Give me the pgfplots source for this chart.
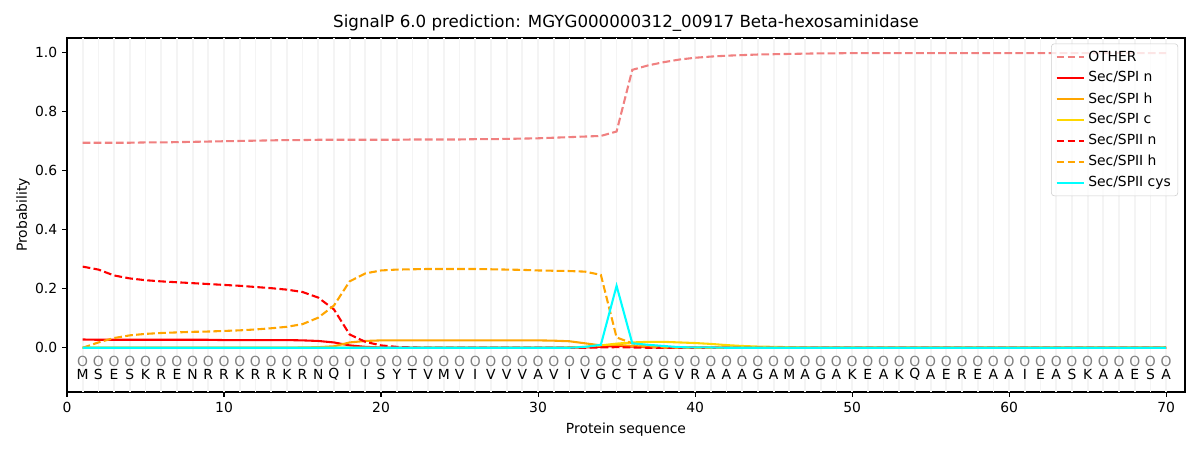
\documentclass[border=0pt]{standalone}
\usepackage{pgfplots}
\usepackage{pgfplotstable}
\pgfplotsset{compat=1.18}
\usepackage{fontspec}
\setmainfont{DejaVu Sans}
\definecolor{cother}{HTML}{F08080}
\definecolor{corange}{HTML}{FFA500}
\definecolor{cgold}{HTML}{FFD700}
\definecolor{ccyan}{HTML}{00FFFF}
\definecolor{gridc}{HTML}{F4F4F4}
\pgfplotstableread{
x other spin spih spic spiin spiih cys
1 0.695 0.028 0.000 0.000 0.275 0.000 0.000
2 0.695 0.027 0.000 0.000 0.265 0.018 0.000
3 0.695 0.027 0.000 0.000 0.245 0.033 0.000
4 0.695 0.027 0.000 0.000 0.235 0.042 0.000
5 0.696 0.027 0.000 0.000 0.229 0.047 0.000
6 0.696 0.027 0.000 0.000 0.225 0.050 0.000
7 0.697 0.027 0.000 0.000 0.222 0.052 0.000
8 0.698 0.027 0.000 0.000 0.219 0.054 0.000
9 0.699 0.027 0.000 0.000 0.216 0.055 0.000
10 0.700 0.026 0.000 0.000 0.213 0.057 0.000
11 0.701 0.026 0.000 0.000 0.210 0.059 0.000
12 0.702 0.026 0.000 0.000 0.206 0.062 0.000
13 0.703 0.026 0.000 0.000 0.202 0.066 0.000
14 0.704 0.026 0.000 0.000 0.197 0.071 0.000
15 0.704 0.025 0.001 0.000 0.189 0.080 0.000
16 0.705 0.023 0.002 0.000 0.170 0.102 0.000
17 0.705 0.018 0.005 0.000 0.130 0.143 0.000
18 0.705 0.008 0.018 0.000 0.045 0.225 0.000
19 0.705 0.003 0.023 0.000 0.020 0.252 0.000
20 0.705 0.001 0.025 0.000 0.008 0.262 0.000
21 0.705 0.000 0.025 0.000 0.003 0.265 0.000
22 0.706 0.000 0.025 0.000 0.001 0.266 0.000
23 0.706 0.000 0.025 0.000 0.000 0.267 0.000
24 0.706 0.000 0.025 0.000 0.000 0.267 0.000
25 0.706 0.000 0.025 0.000 0.000 0.267 0.000
26 0.707 0.000 0.025 0.000 0.000 0.267 0.000
27 0.707 0.000 0.025 0.000 0.000 0.266 0.000
28 0.708 0.000 0.025 0.000 0.000 0.265 0.000
29 0.709 0.000 0.025 0.000 0.000 0.264 0.000
30 0.710 0.000 0.025 0.000 0.000 0.262 0.000
31 0.712 0.000 0.024 0.000 0.000 0.261 0.000
32 0.714 0.000 0.022 0.001 0.000 0.260 0.000
33 0.716 0.001 0.015 0.003 0.000 0.258 0.003
34 0.718 0.003 0.008 0.008 0.001 0.247 0.010
35 0.733 0.006 0.010 0.014 0.002 0.035 0.210
36 0.942 0.004 0.006 0.018 0.001 0.015 0.015
37 0.957 0.002 0.003 0.020 0.000 0.006 0.010
38 0.968 0.001 0.001 0.020 0.000 0.002 0.006
39 0.977 0.000 0.000 0.018 0.000 0.001 0.002
40 0.983 0.000 0.000 0.016 0.000 0.000 0.001
41 0.987 0.000 0.000 0.013 0.000 0.000 0.001
42 0.990 0.000 0.000 0.009 0.000 0.000 0.000
43 0.992 0.000 0.000 0.006 0.000 0.000 0.000
44 0.994 0.000 0.000 0.004 0.000 0.000 0.000
45 0.995 0.000 0.000 0.003 0.000 0.000 0.000
46 0.996 0.000 0.000 0.002 0.000 0.000 0.000
47 0.997 0.000 0.000 0.001 0.000 0.000 0.000
48 0.998 0.000 0.000 0.000 0.000 0.000 0.000
49 0.998 0.000 0.000 0.000 0.000 0.000 0.000
50 0.999 0.000 0.000 0.000 0.000 0.000 0.000
51 0.999 0.000 0.000 0.000 0.000 0.000 0.000
52 0.999 0.000 0.000 0.000 0.000 0.000 0.000
53 0.999 0.000 0.000 0.000 0.000 0.000 0.000
54 0.999 0.000 0.000 0.000 0.000 0.000 0.000
55 0.999 0.000 0.000 0.000 0.000 0.000 0.000
56 0.999 0.000 0.000 0.000 0.000 0.000 0.000
57 0.999 0.000 0.000 0.000 0.000 0.000 0.000
58 0.999 0.000 0.000 0.000 0.000 0.000 0.000
59 0.999 0.000 0.000 0.000 0.000 0.000 0.000
60 0.999 0.000 0.000 0.000 0.000 0.000 0.000
61 0.999 0.000 0.000 0.000 0.000 0.000 0.000
62 0.999 0.000 0.000 0.000 0.000 0.000 0.000
63 0.999 0.000 0.000 0.000 0.000 0.000 0.000
64 0.999 0.000 0.000 0.000 0.000 0.000 0.000
65 0.999 0.000 0.000 0.000 0.000 0.000 0.000
66 0.999 0.000 0.000 0.000 0.000 0.000 0.000
67 0.999 0.000 0.000 0.000 0.000 0.000 0.000
68 0.999 0.000 0.000 0.000 0.000 0.000 0.000
69 0.999 0.000 0.000 0.000 0.000 0.000 0.000
70 0.999 0.000 0.000 0.000 0.000 0.000 0.000
}\probs
\pgfplotstableread{
x y aa
1 -0.09 M
2 -0.09 S
3 -0.09 E
4 -0.09 S
5 -0.09 K
6 -0.09 R
7 -0.09 E
8 -0.09 N
9 -0.09 R
10 -0.09 R
11 -0.09 K
12 -0.09 R
13 -0.09 R
14 -0.09 K
15 -0.09 R
16 -0.09 N
17 -0.09 Q
18 -0.09 I
19 -0.09 I
20 -0.09 S
21 -0.09 Y
22 -0.09 T
23 -0.09 V
24 -0.09 M
25 -0.09 V
26 -0.09 I
27 -0.09 V
28 -0.09 V
29 -0.09 V
30 -0.09 A
31 -0.09 V
32 -0.09 I
33 -0.09 V
34 -0.09 G
35 -0.09 C
36 -0.09 T
37 -0.09 A
38 -0.09 G
39 -0.09 V
40 -0.09 R
41 -0.09 A
42 -0.09 A
43 -0.09 A
44 -0.09 G
45 -0.09 A
46 -0.09 M
47 -0.09 A
48 -0.09 G
49 -0.09 A
50 -0.09 K
51 -0.09 E
52 -0.09 A
53 -0.09 K
54 -0.09 Q
55 -0.09 A
56 -0.09 E
57 -0.09 R
58 -0.09 E
59 -0.09 A
60 -0.09 A
61 -0.09 I
62 -0.09 E
63 -0.09 A
64 -0.09 S
65 -0.09 K
66 -0.09 A
67 -0.09 A
68 -0.09 E
69 -0.09 S
70 -0.09 A
}\residues
\begin{document}
\begin{tikzpicture}
\path[use as bounding box] (-48.24pt,-41.76pt) rectangle (815.76pt,282.24pt);
\begin{axis}[
  at={(0,0)}, anchor=south west,
  scale only axis, width=804.96pt, height=254.88pt,
  xmin=0, xmax=71.2, ymin=-0.15, ymax=1.05,
  axis line style={line width=0.8pt},
  xtick={0,10,...,70}, ytick={0,0.2,...,1.0},
  yticklabel style={/pgf/number format/.cd, fixed, fixed zerofill, precision=1},
  /pgf/number format/assume math mode=true,
  tick align=outside, major tick length=3.5pt,
  tick style={line width=0.8pt, black},
  xtick pos=bottom, ytick pos=left,
  extra x ticks={1,...,70}, extra x tick labels={},
  extra x tick style={grid=major, major tick length=0pt, major grid style={gridc, line width=1.3pt}},
  ticklabel style={font=\fontsize{10}{12}\selectfont},
  label style={font=\fontsize{10}{12}\selectfont},
  title style={font=\fontsize{12}{14}\selectfont, yshift=-5pt},
  title={SignalP 6.0 prediction: MGYG000000312\_00917 Beta-hexosaminidase},
  xlabel={Protein sequence}, ylabel={Probability},
  xlabel style={yshift=3pt}, ylabel style={yshift=-3pt},
  legend style={at={(1,1)}, anchor=north east, xshift=-5pt, yshift=-4pt,
    draw=black!20, rounded corners=2pt, font=\fontsize{10}{12}\selectfont,
    row sep=2.1pt, inner sep=3pt, fill=white, fill opacity=0.8, text opacity=1},
  legend cell align=left,
  legend image code/.code={\draw[#1] (0pt,0pt) -- (20pt,0pt);},
  every axis plot/.append style={line width=1.5pt},
]
\addplot[cother, dash pattern=on 5.55pt off 2.4pt] table[x=x,y=other]{\probs};
\addlegendentry{OTHER}
\addplot[red] table[x=x,y=spin]{\probs};
\addlegendentry{Sec/SPI n}
\addplot[corange] table[x=x,y=spih]{\probs};
\addlegendentry{Sec/SPI h}
\addplot[cgold] table[x=x,y=spic]{\probs};
\addlegendentry{Sec/SPI c}
\addplot[red, dash pattern=on 5.55pt off 2.4pt] table[x=x,y=spiin]{\probs};
\addlegendentry{Sec/SPII n}
\addplot[corange, dash pattern=on 5.55pt off 2.4pt] table[x=x,y=spiih]{\probs};
\addlegendentry{Sec/SPII h}
\addplot[ccyan] table[x=x,y=cys]{\probs};
\addlegendentry{Sec/SPII cys}
\addplot[draw=none, mark=none, nodes near coords, point meta=explicit symbolic,
  every node near coord/.append style={anchor=center, font=\fontsize{10}{12}\selectfont, inner sep=0pt}]
  table[x=x,y=y,meta=aa]{\residues};
\addplot[draw=none, mark=none, nodes near coords={O}, point meta=explicit symbolic,
  every node near coord/.append style={anchor=center, text=gray, font=\fontsize{10}{12}\selectfont, inner sep=0pt}]
  table[x=x,y expr=-0.046,meta=aa]{\residues};
\end{axis}
\end{tikzpicture}
\end{document}
